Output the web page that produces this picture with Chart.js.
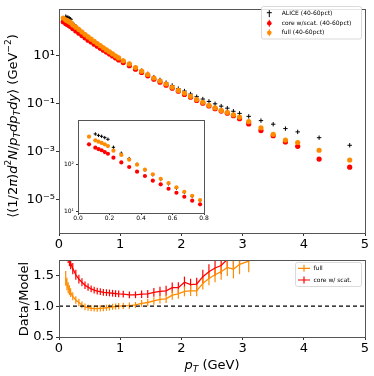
<!DOCTYPE html>
<html>
<head>
<meta charset="utf-8">
<script src="https://cdn.jsdelivr.net/npm/chart.js@4.4.1/dist/chart.umd.min.js"></script>
<style>
  body { margin: 0; background: #fff; }
  #wrap { position: relative; width: 374px; height: 376px; background: #fff; overflow: hidden; }
  canvas { position: absolute; }
</style>
</head>
<body>
<div id="wrap">
  <canvas id="main" width="374" height="250" style="left:0px;top:0px"></canvas>
  <canvas id="ratio" width="374" height="126" style="left:0px;top:250px"></canvas>
  <canvas id="inset" width="160" height="112" style="left:50px;top:112px"></canvas>
</div>
<script>
// pT grid of the model curves and of the ALICE points (GeV)
const ptModel = [0.07, 0.11, 0.13, 0.15, 0.17, 0.19, 0.225, 0.275, 0.325, 0.375, 0.425, 0.475, 0.525, 0.575, 0.625, 0.675, 0.725, 0.775, 0.825, 0.875, 0.925, 0.975,
  1.05, 1.15, 1.25, 1.35, 1.45, 1.55, 1.65, 1.75, 1.85, 1.95, 2.05, 2.15, 2.25, 2.35, 2.45, 2.55, 2.65, 2.75, 2.85, 2.95, 3.1, 3.3, 3.5, 3.7, 3.9, 4.25, 4.75];
const ptAlice = [0.11, 0.13, 0.15, 0.17, 0.19, 0.225, 0.275, 0.325, 0.375, 0.425, 0.475, 0.525, 0.575, 0.625, 0.675, 0.725, 0.775, 0.825, 0.875, 0.925, 0.975,
  1.05, 1.15, 1.25, 1.35, 1.45, 1.55, 1.65, 1.75, 1.85, 1.95, 2.05, 2.15, 2.25, 2.35, 2.45, 2.55, 2.65, 2.75, 2.85, 2.95, 3.1, 3.3, 3.5, 3.7, 3.9, 4.25, 4.75];

// spectra
const aliceVals = [426, 398, 380, 357, 330, 224, 168, 130, 98.5, 75, 59.5, 47.4, 38.5, 31.2, 25.3, 21, 17.2, 14.1, 11.8, 9.75, 8.1,
  6.23, 4.62, 3.3, 2.39, 1.76, 1.29, 0.99, 0.76, 0.58, 0.43, 0.34, 0.256, 0.197, 0.158, 0.126, 0.10, 0.080, 0.066, 0.049, 0.040,
  0.030, 0.020, 0.0142, 0.0093, 0.0068, 0.0039, 0.00188];
const coreVals = [259, 220, 206, 194, 178, 164, 136, 108, 86.5, 69, 56, 44.7, 37.5, 30.3, 25, 20.6, 17, 14.3, 11.8, 9.8, 8.1, 6.7,
  5.2, 3.89, 2.78, 2.01, 1.47, 1.06, 0.80, 0.60, 0.445, 0.333, 0.245, 0.19, 0.138, 0.106, 0.081, 0.063, 0.050, 0.041, 0.032, 0.024,
  0.0145, 0.0077, 0.0047, 0.0026, 0.0017, 0.0005, 0.00023];
const fullVals = [373, 314, 294, 276, 259, 238, 190, 155, 123, 97, 76, 61, 49, 40, 32.5, 26.2, 21.6, 17.6, 14.4, 11.9, 9.8, 8.1,
  6.2, 4.57, 3.24, 2.29, 1.66, 1.19, 0.89, 0.67, 0.49, 0.36, 0.275, 0.205, 0.15, 0.115, 0.087, 0.068, 0.053, 0.044, 0.035, 0.028,
  0.0182, 0.0101, 0.0054, 0.0031, 0.00246, 0.00117, 0.00046];

// data / model ratios (on the ALICE grid) and their errors
const ratioFull = [1.45, 1.36, 1.30, 1.26, 1.22, 1.16, 1.10, 1.06, 1.02, 0.99, 0.975, 0.967, 0.962, 0.96, 0.965, 0.97, 0.975, 0.98, 0.99, 0.995, 1.0,
  1.005, 1.01, 1.02, 1.045, 1.06, 1.085, 1.11, 1.12, 1.18, 1.2, 1.24, 1.25, 1.25, 1.37, 1.45, 1.51, 1.56, 1.63, 1.6, 1.68,
  1.73, 1.98, 2.6, 3.0, 2.8, 3.3, 4.1];
const ratioCore = [2.0, 1.9, 1.82, 1.76, 1.7, 1.61, 1.51, 1.44, 1.39, 1.34, 1.31, 1.28, 1.26, 1.245, 1.235, 1.225, 1.22, 1.215, 1.21, 1.205, 1.2,
  1.195, 1.185, 1.185, 1.195, 1.2, 1.225, 1.24, 1.25, 1.3, 1.3, 1.39, 1.35, 1.36, 1.48, 1.56, 1.62, 1.66, 1.76, 1.78, 1.85,
  2.07, 2.6, 3.0, 3.6, 4.0, 7.8, 8.2];
const ratioFullErr = [0.12, 0.10, 0.09, 0.08, 0.07, 0.065, 0.06, 0.06, 0.055, 0.055, 0.05, 0.05, 0.05, 0.05, 0.05, 0.05, 0.05, 0.05, 0.05, 0.05, 0.05,
  0.05, 0.05, 0.05, 0.055, 0.06, 0.06, 0.065, 0.07, 0.075, 0.08, 0.08, 0.085, 0.09, 0.1, 0.11, 0.12, 0.13, 0.14, 0.15, 0.16,
  0.18, 0.2, 0.25, 0.3, 0.35, 0.4, 0.5];
const ratioCoreErr = [0.16, 0.14, 0.12, 0.11, 0.1, 0.09, 0.08, 0.07, 0.065, 0.06, 0.06, 0.055, 0.055, 0.055, 0.055, 0.055, 0.055, 0.055, 0.055, 0.055, 0.055,
  0.055, 0.055, 0.055, 0.06, 0.065, 0.07, 0.075, 0.08, 0.085, 0.09, 0.09, 0.095, 0.1, 0.11, 0.12, 0.13, 0.14, 0.15, 0.17, 0.18,
  0.2, 0.25, 0.3, 0.35, 0.4, 0.5, 0.6];
const refX = [0, 5];
const refY = [1, 1];

// ticks
const xTicks = [0, 1, 2, 3, 4, 5];
const mainYTicks = [1e-5, 1e-3, 1e-1, 1e1];
const mainYLabels = ['10⁻⁵', '10⁻³', '10⁻¹', '10¹'];
const ratioYTicks = [0.5, 1.0, 1.5];
const insetXTicks = [0, 0.2, 0.4, 0.6, 0.8];
const insetYTicks = [10, 100];
const insetYLabels = ['10¹', '10²'];

const FONT = 'DejaVu Sans';
const ORANGE = '#ff8c00';
const RED = '#ff0000';
const pts = (xs, ys) => xs.map((x, i) => ({ x, y: ys[i] }));

function drawRich(ctx, parts, size, cx, cy, angle) {
  const fnt = p => (p.i ? 'italic ' : '') + (p.s ? size * 0.7 : size) + 'px "' + FONT + '"';
  ctx.save();
  ctx.translate(cx, cy);
  ctx.rotate(angle);
  let w = 0;
  parts.forEach(p => { ctx.font = fnt(p); w += ctx.measureText(p.t).width; });
  let x = -w / 2;
  ctx.fillStyle = '#000';
  ctx.textBaseline = 'alphabetic';
  parts.forEach(p => {
    ctx.font = fnt(p);
    const dy = p.s === 'sup' ? -size * 0.42 : p.s === 'sub' ? size * 0.22 : 0;
    ctx.fillText(p.t, x, size * 0.36 + dy);
    x += ctx.measureText(p.t).width;
  });
  ctx.restore();
}

// vertical error bars from ds.errors
const errorBars = {
  id: 'errorBars',
  beforeDatasetsDraw(chart) {
    const { ctx, chartArea: a, scales: { x, y } } = chart;
    ctx.save();
    ctx.beginPath();
    ctx.rect(a.left, a.top, a.right - a.left, a.bottom - a.top);
    ctx.clip();
    chart.data.datasets.forEach(ds => {
      if (!ds.errors) return;
      ctx.strokeStyle = ds.borderColor;
      ctx.lineWidth = 1.2;
      ds.data.forEach((p, i) => {
        const px = x.getPixelForValue(p.x);
        ctx.beginPath();
        ctx.moveTo(px, y.getPixelForValue(p.y - ds.errors[i]));
        ctx.lineTo(px, y.getPixelForValue(p.y + ds.errors[i]));
        ctx.stroke();
      });
    });
    ctx.restore();
  }
};

const frame = {
  id: 'frame',
  beforeDraw(chart, args, opts) {
    if (!opts.fill) return;
    const a = chart.chartArea;
    chart.ctx.save();
    chart.ctx.fillStyle = opts.fill;
    chart.ctx.fillRect(a.left, a.top, a.right - a.left, a.bottom - a.top);
    chart.ctx.restore();
  },
  afterDatasetsDraw(chart) {
    const a = chart.chartArea;
    const ctx = chart.ctx;
    ctx.save();
    ctx.strokeStyle = '#555';
    ctx.lineWidth = 1;
    ctx.strokeRect(Math.round(a.left) + 0.5, Math.round(a.top) + 0.5, Math.round(a.right - a.left), Math.round(a.bottom - a.top));
    ctx.restore();
  }
};

function xAxis(min, max, ticks, size, h, tl, pad, fmt) {
  return {
    type: 'linear', min, max,
    afterBuildTicks: s => { s.ticks = ticks.map(v => ({ value: v })); },
    afterFit: s => { s.height = h; },
    grid: { drawOnChartArea: false, drawTicks: true, tickLength: tl, tickColor: '#333', tickWidth: 1 },
    border: { display: false },
    ticks: { font: { family: FONT, size }, color: '#000', padding: pad, maxRotation: 0, autoSkip: false, callback: fmt }
  };
}
function yAxis(type, min, max, ticks, size, w, tl, pad, fmt) {
  return {
    type, min, max,
    afterBuildTicks: s => { s.ticks = ticks.map(v => ({ value: v })); },
    afterFit: s => { s.width = w; },
    grid: { drawOnChartArea: false, drawTicks: true, tickLength: tl, tickColor: '#333', tickWidth: 1 },
    border: { display: false },
    ticks: { font: { family: FONT, size }, color: '#000', padding: pad, autoSkip: false, callback: fmt }
  };
}

const mainDecor = {
  id: 'mainDecor',
  afterDraw(chart) {
    const ctx = chart.ctx;
    drawRich(ctx, [
      { t: '⟨(1/2' }, { t: 'π', i: 1 }, { t: ')' }, { t: 'd', i: 1 }, { t: '2', s: 'sup' }, { t: 'N', i: 1 }, { t: '/' },
      { t: 'p', i: 1 }, { t: 'T', i: 1, s: 'sub' }, { t: 'dp', i: 1 }, { t: 'T', i: 1, s: 'sub' }, { t: 'dy', i: 1 }, { t: '⟩' },
      { t: ' (GeV' }, { t: '−2', s: 'sup' }, { t: ')' }
    ], 13, 12, 126, -Math.PI / 2);

    // legend
    ctx.save();
    ctx.fillStyle = 'rgba(255,255,255,0.85)';
    ctx.strokeStyle = '#d0d0d0';
    ctx.lineWidth = 0.8;
    ctx.beginPath();
    ctx.roundRect(261.5, 6.5, 100, 32.5, 2);
    ctx.fill();
    ctx.stroke();
    const rows = [
      { y: 13.7, label: 'ALICE (40-60pct)', c: '#000', m: 'plus' },
      { y: 23.3, label: 'core w/scat. (40-60pct)', c: RED, m: 'dot' },
      { y: 32.7, label: 'full (40-60pct)', c: ORANGE, m: 'dot' }
    ];
    rows.forEach(r => {
      const mx = 269.3;
      ctx.strokeStyle = r.c;
      ctx.fillStyle = r.c;
      ctx.lineWidth = 1;
      ctx.beginPath();
      ctx.moveTo(mx, r.y - 3.5);
      ctx.lineTo(mx, r.y + 3.5);
      if (r.m === 'plus') { ctx.moveTo(mx - 2.5, r.y - 1); ctx.lineTo(mx + 2.5, r.y - 1); }
      ctx.stroke();
      if (r.m === 'dot') { ctx.beginPath(); ctx.arc(mx, r.y, 2.3, 0, Math.PI * 2); ctx.fill(); }
      ctx.fillStyle = '#000';
      ctx.font = '6px "' + FONT + '"';
      ctx.textBaseline = 'middle';
      ctx.fillText(r.label, 281.7, r.y);
    });
    ctx.restore();
  }
};

const ratioDecor = {
  id: 'ratioDecor',
  afterDraw(chart) {
    const ctx = chart.ctx;
    drawRich(ctx, [{ t: 'Data/Model' }], 13, 23, 49, -Math.PI / 2);
    drawRich(ctx, [{ t: 'p', i: 1 }, { t: 'T', i: 1, s: 'sub' }, { t: ' (GeV)' }], 13, 212, 114, 0);

    ctx.save();
    ctx.fillStyle = 'rgba(255,255,255,0.85)';
    ctx.strokeStyle = '#d0d0d0';
    ctx.lineWidth = 0.8;
    ctx.beginPath();
    ctx.roundRect(295.5, 12.5, 66, 24, 2);
    ctx.fill();
    ctx.stroke();
    [{ y: 18.3, label: 'full', c: ORANGE }, { y: 30, label: 'core w/ scat.', c: RED }].forEach(r => {
      ctx.strokeStyle = r.c;
      ctx.lineWidth = 1.2;
      ctx.beginPath();
      ctx.moveTo(298, r.y); ctx.lineTo(310, r.y);
      ctx.moveTo(304, r.y - 3.5); ctx.lineTo(304, r.y + 3.5);
      ctx.stroke();
      ctx.fillStyle = '#000';
      ctx.font = '6px "' + FONT + '"';
      ctx.textBaseline = 'middle';
      ctx.fillText(r.label, 313.5, r.y);
    });
    ctx.restore();
  }
};

const common = { responsive: false, animation: false, plugins: { legend: { display: false }, tooltip: { enabled: false } } };

// main spectrum
new Chart(document.getElementById('main'), {
  type: 'scatter',
  data: {
    datasets: [
      { data: pts(ptModel, fullVals), pointStyle: 'circle', pointRadius: 2.6, backgroundColor: ORANGE, borderColor: ORANGE, borderWidth: 0 },
      { data: pts(ptModel, coreVals), pointStyle: 'circle', pointRadius: 2.6, backgroundColor: RED, borderColor: RED, borderWidth: 0 },
      { data: pts(ptAlice, aliceVals), pointStyle: 'cross', pointRadius: 2.2, borderColor: '#000', borderWidth: 1 }
    ]
  },
  options: {
    ...common,
    layout: { padding: { left: 0, right: 9, top: 5, bottom: 0 } },
    scales: {
      x: xAxis(0, 5, xTicks, 13, 17, 3, 1, v => String(v)),
      y: yAxis('logarithmic', 4.2e-7, 902, mainYTicks, 13, 59, 3, 1, v => mainYLabels[mainYTicks.indexOf(v)])
    }
  },
  plugins: [frame, mainDecor]
});

// ratio panel
new Chart(document.getElementById('ratio'), {
  type: 'line',
  data: {
    datasets: [
      { data: pts(refX, refY), borderColor: '#000', borderWidth: 1.2, borderDash: [4, 3], pointRadius: 0 },
      { data: pts(ptAlice, ratioCore), errors: ratioCoreErr, borderColor: RED, borderWidth: 1.3, pointRadius: 0 },
      { data: pts(ptAlice, ratioFull), errors: ratioFullErr, borderColor: ORANGE, borderWidth: 1.3, pointRadius: 0 }
    ]
  },
  options: {
    ...common,
    layout: { padding: { left: 0, right: 9, top: 10, bottom: 0 } },
    scales: {
      x: xAxis(0, 5, xTicks, 13, 39, 3, 1, v => String(v)),
      y: yAxis('linear', 0.5, 1.75, ratioYTicks, 13, 59, 3, 2, v => v.toFixed(1))
    }
  },
  plugins: [errorBars, frame, ratioDecor]
});

// inset (low pT zoom)
new Chart(document.getElementById('inset'), {
  type: 'scatter',
  data: {
    datasets: [
      { data: pts(ptModel, fullVals), pointStyle: 'circle', pointRadius: 2.1, backgroundColor: ORANGE, borderColor: ORANGE, borderWidth: 0 },
      { data: pts(ptModel, coreVals), pointStyle: 'circle', pointRadius: 2.1, backgroundColor: RED, borderColor: RED, borderWidth: 0 },
      { data: pts(ptAlice, aliceVals), pointStyle: 'cross', pointRadius: 1.7, borderColor: '#000', borderWidth: 1 }
    ]
  },
  options: {
    ...common,
    layout: { padding: { left: 0, right: 6, top: 8, bottom: 0 } },
    scales: {
      x: xAxis(0, 0.8, insetXTicks, 6, 11, 2, 0, v => v.toFixed(1)),
      y: yAxis('logarithmic', 9.4, 836, insetYTicks, 6, 28, 2, 2, v => insetYLabels[insetYTicks.indexOf(v)])
    }
  },
  plugins: [frame]
});
</script>
</body>
</html>
